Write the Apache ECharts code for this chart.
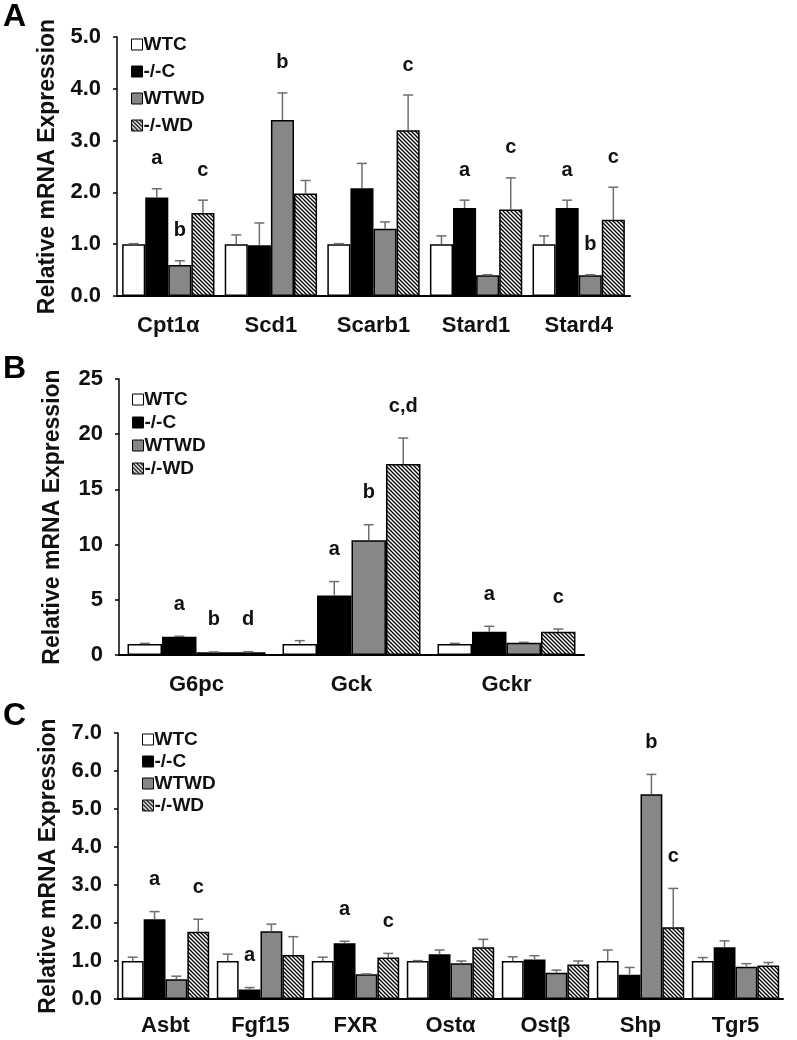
<!DOCTYPE html>
<html><head><meta charset="utf-8">
<script src="https://cdn.jsdelivr.net/npm/echarts@6/dist/echarts.min.js"></script>
<style>html,body{margin:0;padding:0;background:#fff}#c{width:797px;height:1040px}</style>
</head><body><div id="c"></div>
<script>
// ---------- data ----------
const groups = ['WTC', '-/-C', 'WTWD', '-/-WD'];

// Panel A
const catsA = ['Cpt1α', 'Scd1', 'Scarb1', 'Stard1', 'Stard4'];
const A_wtc = [1.0, 1.0, 1.0, 1.0, 1.0];
const A_wtc_se = [0.01, 0.18, 0.01, 0.16, 0.16];
const A_koc = [1.9, 0.98, 2.08, 1.70, 1.70];
const A_koc_se = [0.17, 0.43, 0.48, 0.15, 0.15];
const A_wtwd = [0.6, 3.4, 1.3, 0.4, 0.4];
const A_wtwd_se = [0.08, 0.52, 0.13, 0.01, 0.01];
const A_kowd = [1.6, 1.98, 3.2, 1.67, 1.47];
const A_kowd_se = [0.25, 0.25, 0.68, 0.61, 0.63];
const A_wtc_sig = ['', '', '', '', ''];
const A_koc_sig = ['a', '', '', 'a', 'a'];
const A_wtwd_sig = ['b', 'b', '', '', 'b'];
const A_kowd_sig = ['c', '', 'c', 'c', 'c'];
const A_ticks = ['0.0', '1.0', '2.0', '3.0', '4.0', '5.0'];

// Panel B
const catsB = ['G6pc', 'Gck', 'Gckr'];
const B_wtc = [1.0, 1.0, 1.0];
const B_wtc_se = [0.05, 0.3, 0.05];
const B_koc = [1.65, 5.4, 2.1];
const B_koc_se = [0.05, 1.25, 0.5];
const B_wtwd = [0.25, 10.4, 1.1];
const B_wtwd_se = [0.03, 1.4, 0.05];
const B_kowd = [0.25, 17.3, 2.1];
const B_kowd_se = [0.05, 2.35, 0.25];
const B_wtc_sig = ['', '', ''];
const B_koc_sig = ['a', 'a', 'a'];
const B_wtwd_sig = ['b', 'b', ''];
const B_kowd_sig = ['d', 'c,d', 'c'];
const B_ticks = ['0', '5', '10', '15', '20', '25'];

// Panel C
const catsC = ['Asbt', 'Fgf15', 'FXR', 'Ostα', 'Ostβ', 'Shp', 'Tgr5'];
const C_wtc = [1.0, 1.0, 1.0, 1.0, 1.0, 1.0, 1.0];
const C_wtc_se = [0.1, 0.18, 0.1, 0.01, 0.11, 0.29, 0.09];
const C_koc = [2.1, 0.25, 1.47, 1.18, 1.04, 0.64, 1.36];
const C_koc_se = [0.2, 0.05, 0.05, 0.11, 0.1, 0.19, 0.17];
const C_wtwd = [0.52, 1.78, 0.65, 0.94, 0.69, 5.39, 0.85];
const C_wtwd_se = [0.08, 0.19, 0.01, 0.06, 0.07, 0.52, 0.08];
const C_kowd = [1.77, 1.16, 1.09, 1.36, 0.91, 1.89, 0.88];
const C_kowd_se = [0.33, 0.48, 0.11, 0.21, 0.09, 1.02, 0.08];
const C_wtc_sig = ['', '', '', '', '', '', ''];
const C_koc_sig = ['a', 'a', 'a', '', '', '', ''];
const C_wtwd_sig = ['', '', '', '', '', 'b', ''];
const C_kowd_sig = ['c', '', 'c', '', '', 'c', ''];
const C_ticks = ['0.0', '1.0', '2.0', '3.0', '4.0', '5.0', '6.0', '7.0'];

// ---------- styling / layout ----------
const FONT = '"Liberation Sans", Arial, sans-serif';
function hatchCanvas() {
  const c = document.createElement('canvas');
  c.width = 4; c.height = 4;
  const g = c.getContext('2d');
  g.fillStyle = '#fff'; g.fillRect(0, 0, 4, 4);
  g.strokeStyle = '#000'; g.lineWidth = 1.3;
  g.beginPath();
  g.moveTo(-1, -1); g.lineTo(5, 5);
  g.moveTo(-1, 3); g.lineTo(1, 5);
  g.moveTo(3, -1); g.lineTo(5, 1);
  g.stroke();
  return c;
}
const fills = ['#ffffff', '#000000', '#878787', { image: hatchCanvas(), repeat: 'repeat' }];

const panels = [
  { cats: catsA, vals: [A_wtc, A_koc, A_wtwd, A_kowd], se: [A_wtc_se, A_koc_se, A_wtwd_se, A_kowd_se],
    sig: [A_wtc_sig, A_koc_sig, A_wtwd_sig, A_kowd_sig], ticks: A_ticks, interval: 1,
    grid: { left: 117, top: 37, width: 513, height: 259 }, gap: 0.10, off: 30, xMargin: 19,
    legend: { left: 131, top: 35, itemGap: 8 }, letter: 'A', letterTop: 1 },
  { cats: catsB, vals: [B_wtc, B_koc, B_wtwd, B_kowd], se: [B_wtc_se, B_koc_se, B_wtwd_se, B_kowd_se],
    sig: [B_wtc_sig, B_koc_sig, B_wtwd_sig, B_kowd_sig], ticks: B_ticks, interval: 5,
    grid: { left: 119, top: 379, width: 465, height: 276 }, gap: 0.11, off: 32, xMargin: 19,
    legend: { left: 132, top: 390, itemGap: 4 }, letter: 'B', letterTop: 353 },
  { cats: catsC, vals: [C_wtc, C_koc, C_wtwd, C_kowd], se: [C_wtc_se, C_koc_se, C_wtwd_se, C_kowd_se],
    sig: [C_wtc_sig, C_koc_sig, C_wtwd_sig, C_kowd_sig], ticks: C_ticks, interval: 1,
    grid: { left: 118, top: 733, width: 665, height: 266 }, gap: 0.08, off: 32, xMargin: 16,
    legend: { left: 142, top: 730, itemGap: 3 }, letter: 'C', letterTop: 700 }
];

const option = { animation: false, backgroundColor: '#fff', grid: [], xAxis: [], yAxis: [], series: [], legend: [], graphic: [] };

panels.forEach((p, pi) => {
  option.grid.push(Object.assign({ containLabel: false }, p.grid));
  option.xAxis.push({
    type: 'category', gridIndex: pi, data: p.cats,
    axisLine: { lineStyle: { color: '#000', width: 2 } },
    axisTick: { show: false },
    axisLabel: { color: '#111', fontFamily: FONT, fontWeight: 'bold', fontSize: 22, margin: p.xMargin }
  });
  const maxV = Number(p.ticks[p.ticks.length - 1]);
  option.yAxis.push({
    type: 'value', gridIndex: pi, min: 0, max: maxV, interval: p.interval,
    name: 'Relative mRNA Expression', nameLocation: 'middle', nameGap: 55,
    nameTextStyle: { color: '#111', fontFamily: FONT, fontWeight: 'bold', fontSize: 23 },
    axisLine: { show: true, lineStyle: { color: '#000', width: 1.5 } },
    axisTick: { show: true, inside: false, length: 4, lineStyle: { color: '#000', width: 1.5 } },
    splitLine: { show: false },
    axisLabel: { color: '#111', fontFamily: FONT, fontWeight: 'bold', fontSize: 22, margin: 16,
      formatter: (v) => p.ticks[Math.round(v / p.interval)] }
  });
  groups.forEach((g, k) => {
    option.series.push({
      type: 'bar', name: g, xAxisIndex: pi, yAxisIndex: pi, data: p.vals[k],
      barGap: '0%', barCategoryGap: (p.gap * 100) + '%',
      itemStyle: { color: fills[k], borderColor: '#000', borderWidth: 1.5 },
      emphasis: { disabled: true }
    });
  });
  groups.forEach((g, k) => {
    option.series.push({
      type: 'custom', xAxisIndex: pi, yAxisIndex: pi, z: 5, silent: true,
      data: p.cats.map((c, i) => [i, p.vals[k][i] + p.se[k][i], p.vals[k][i]]),
      encode: { x: 0, y: 1 },
      renderItem: (params, api) => {
        const i = api.value(0), top = api.value(1), v = api.value(2);
        const band = api.size([1, 0])[0];
        const bw = band * (1 - p.gap) / 4;
        const cx = api.coord([i, 0])[0] + (k - 1.5) * bw;
        const yTop = api.coord([i, top])[1];
        const yBar = api.coord([i, v])[1];
        const children = [
          { type: 'line', shape: { x1: cx, y1: yBar, x2: cx, y2: yTop }, style: { stroke: '#6e6e6e', lineWidth: 1.5 } },
          { type: 'line', shape: { x1: cx - 5, y1: yTop, x2: cx + 5, y2: yTop }, style: { stroke: '#6e6e6e', lineWidth: 1.5 } }
        ];
        const letter = p.sig[k][params.dataIndex];
        if (letter) {
          children.push({ type: 'text', style: { text: letter, x: cx, y: yTop - p.off, align: 'center', verticalAlign: 'middle',
            font: 'bold 20px ' + FONT, fill: '#111' } });
        }
        return { type: 'group', children };
      }
    });
  });
  option.legend.push({
    orient: 'vertical', left: p.legend.left, top: p.legend.top, padding: 0, itemGap: p.legend.itemGap,
    itemWidth: 11, itemHeight: 11, icon: 'rect', selectedMode: false, data: groups,
    itemStyle: { borderColor: '#000', borderWidth: 1 },
    textStyle: { color: '#111', fontFamily: FONT, fontWeight: 'bold', fontSize: 19, padding: [0, 0, 0, -4] }
  });
  option.graphic.push({ type: 'text', left: 3, top: p.letterTop,
    style: { text: p.letter, font: 'bold 32px ' + FONT, fill: '#000' } });
});

const chart = echarts.init(document.getElementById('c'), null, { renderer: 'canvas' });
chart.setOption(option);
</script></body></html>
